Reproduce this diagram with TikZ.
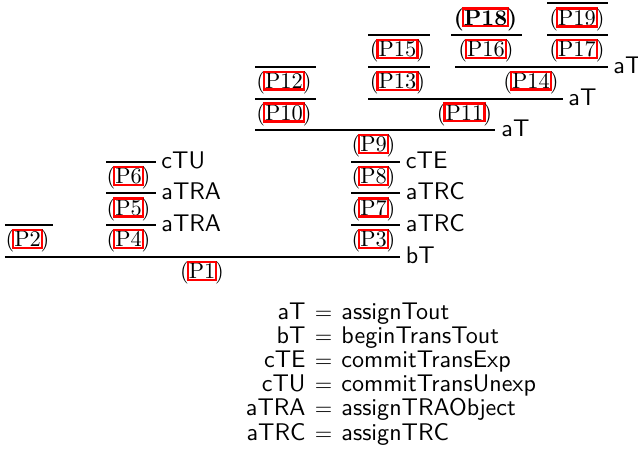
\documentclass[tikz,border=0pt]{standalone}
\newcommand\lk[1]{{\setlength\fboxsep{0pt}\setlength\fboxrule{1pt}\kern-1pt\textcolor{red}{\fbox{\textcolor{black}{#1}}}\kern-1pt}}
\newcommand\pr[1]{(\lk{P#1})}
\begin{document}
\begin{tikzpicture}[x=0.4464pt,y=-0.4464pt,
  rl/.style={line width=1pt},
  pf/.style={inner sep=0pt,anchor=base,font=\fontsize{10}{12}\selectfont},
  lb/.style={inner sep=0pt,anchor=base west,font=\fontsize{10.75}{12}\selectfont\sffamily},
  lg/.style={inner sep=0pt,font=\fontsize{10.75}{12}\selectfont\sffamily},
  eq/.style={inner sep=0pt,anchor=base,font=\fontsize{10}{12}\selectfont}]
\useasboundingbox (0,0) rectangle (638,471);
% rules
\draw[rl] (5,256.7) -- (400,256.7);
\node[lb] (lbT) at (405.5,263.2) {bT};
\draw[rl] (5,225) -- (53,225);
\draw[rl] (106,225) -- (156,225);
\node[lb] (lA1) at (161,231.5) {aTRA};
\draw[rl] (351,225) -- (400,225);
\node[lb] (lC1) at (405.5,231.5) {aTRC};
\draw[rl] (106,193.3) -- (156,193.3);
\node[lb] (lA2) at (161,199.8) {aTRA};
\draw[rl] (351,193.3) -- (400,193.3);
\node[lb] (lC2) at (405.5,199.8) {aTRC};
\draw[rl] (106,161.7) -- (156,161.7);
\node[lb] (lU) at (161,168.2) {cTU};
\draw[rl] (351,161.7) -- (400,161.7);
\node[lb] (lE) at (405.5,168.2) {cTE};
\draw[rl] (255,130) -- (495,130);
\node[lb] (la1) at (501,136.5) {aT};
\draw[rl] (255,98.7) -- (316,98.7);
\draw[rl] (368,98.7) -- (563,98.7);
\node[lb] (la2) at (568,105.2) {aT};
\draw[rl] (255,66.7) -- (316,66.7);
\draw[rl] (368,66.7) -- (430,66.7);
\draw[rl] (455,66.7) -- (608,66.7);
\node[lb] (la3) at (613,73.2) {aT};
\draw[rl] (368,35) -- (430,35);
\draw[rl] (451,35) -- (522,35);
\draw[rl] (547,35) -- (608,35);
\draw[rl] (547,3.3) -- (608,3.3);
% formulas
\node[pf] (p1) at (202,278.7) {\pr{1}};
\node[pf] (p2) at (27.5,246.7) {\pr{2}};
\node[pf] (p4) at (128.5,246.7) {\pr{4}};
\node[pf] (p5) at (128.5,215) {\pr{5}};
\node[pf] (p6) at (128.5,183.3) {\pr{6}};
\node[pf] (p3) at (373.5,246.7) {\pr{3}};
\node[pf] (p7) at (373.5,215) {\pr{7}};
\node[pf] (p8) at (373.5,183.3) {\pr{8}};
\node[pf] (p9) at (373.5,151.7) {\pr{9}};
\node[pf] (p10) at (284,120) {\pr{10}};
\node[pf] (p12) at (284,88.3) {\pr{12}};
\node[pf] (p11) at (464.5,120) {\pr{11}};
\node[pf] (p13) at (397.5,88.3) {\pr{13}};
\node[pf] (p15) at (397.5,56.7) {\pr{15}};
\node[pf] (p14) at (531,88.3) {\pr{14}};
\node[pf] (p16) at (486,56.7) {\pr{16}};
\node[pf] (p18) at (485.5,25) {\bfseries\pr{18}};
\node[pf] (p17) at (577,56.7) {\pr{17}};
\node[pf] (p19) at (577,25) {\pr{19}};
% legend
\foreach \l/\r/\y [count=\i] in {aT/assignTout/319, bT/beginTransTout/343.2, cTE/commitTransExp/367.4, cTU/commitTransUnexp/391.6, aTRA/assignTRAObject/415.8, aTRC/assignTRC/440}{
  \node[lg,anchor=base east] (k\i) at (306,\y) {\l};
  \node[eq] (e\i) at (323.5,\y) {$=$};
  \node[lg,anchor=base west] (v\i) at (341,\y) {\r};
}
\end{tikzpicture}
\end{document}
